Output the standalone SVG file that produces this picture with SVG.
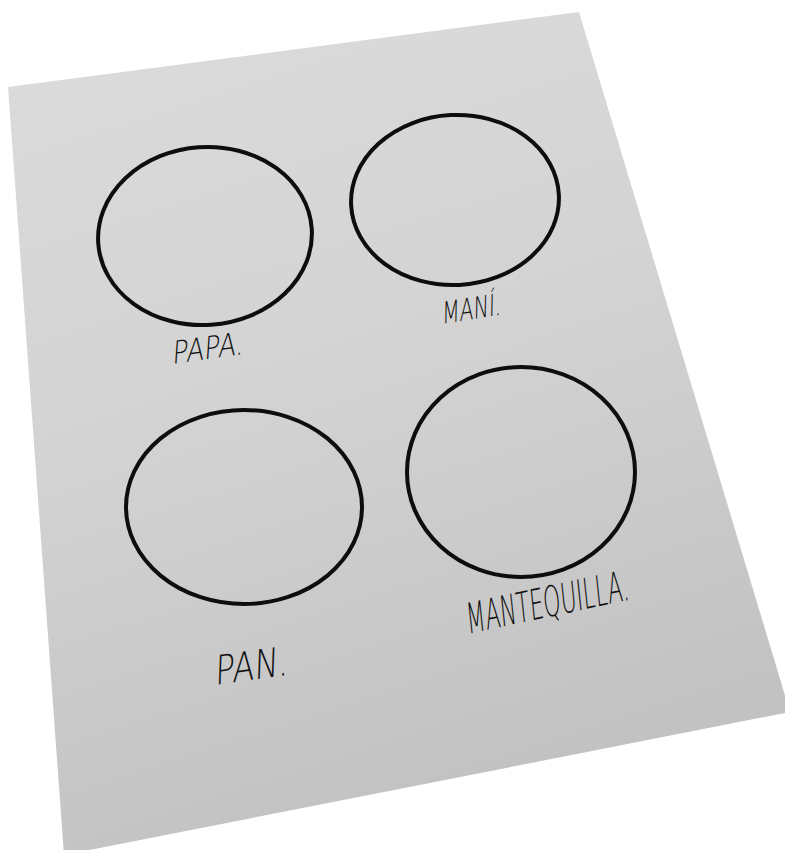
<svg xmlns="http://www.w3.org/2000/svg" width="785" height="850" viewBox="0 0 785 850">
  <defs>
    <linearGradient id="paper" x1="0" y1="0" x2="0.3" y2="1">
      <stop offset="0" stop-color="#dcdcdc"/>
      <stop offset="0.5" stop-color="#d3d3d3"/>
      <stop offset="1" stop-color="#c2c2c2"/>
    </linearGradient>
  </defs>
  <style>
    .ring { fill: none; stroke: #0d0d0d; stroke-width: 4; }
    .label { font-family: "DejaVu Sans", "Liberation Sans", sans-serif; font-weight: 200; fill: #111111; }
  </style>
  <rect width="785" height="850" fill="#ffffff"/>
  <polygon id="paper-sheet" points="8,87 579,12 790,712 64,855" fill="url(#paper)"/>

  <g id="papa">
    <ellipse class="ring" cx="205" cy="236" rx="107" ry="89" transform="rotate(-4 205 236)"/>
    <text class="label" font-size="31" textLength="72" lengthAdjust="spacingAndGlyphs" transform="translate(172,364) rotate(-8) skewX(-12)">PAPA.</text>
  </g>

  <g id="mani">
    <ellipse class="ring" cx="455" cy="200" rx="104" ry="85" transform="rotate(-3 455 200)"/>
    <text class="label" font-size="30" textLength="60" lengthAdjust="spacingAndGlyphs" transform="translate(442,324) rotate(-9) skewX(-10)">MANÍ.</text>
  </g>

  <g id="pan">
    <ellipse class="ring" cx="244" cy="507" rx="118" ry="97"/>
    <text class="label" font-size="40" textLength="74" lengthAdjust="spacingAndGlyphs" transform="translate(215,685) rotate(-8) skewX(-10)">PAN.</text>
  </g>

  <g id="mantequilla">
    <ellipse class="ring" cx="521" cy="472" rx="114" ry="105"/>
    <text class="label" font-size="42" textLength="166" lengthAdjust="spacingAndGlyphs" transform="translate(468,634) rotate(-12) skewX(-6)">MANTEQUILLA.</text>
  </g>

  <g id="connectors"></g>
</svg>
